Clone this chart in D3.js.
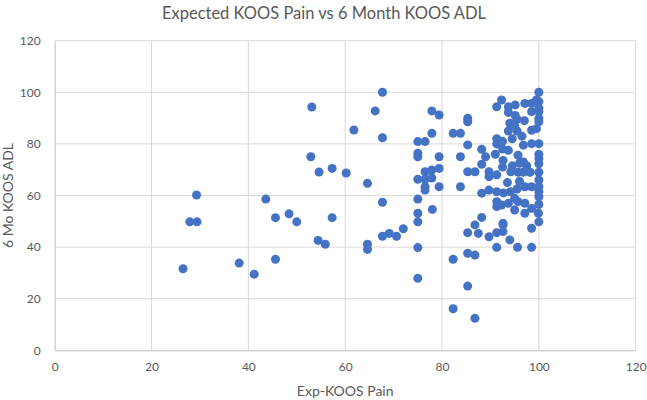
<!DOCTYPE html>
<html>
<head>
<meta charset="utf-8">
<script src="https://cdn.jsdelivr.net/npm/d3@7"></script>
<style>
  body { margin: 0; background: #fff; }
  svg text { font-family: Lato, "Open Sans", sans-serif; fill: #595959; }
</style>
</head>
<body>
<div class="chart"></div>
<script>
const width = 647, height = 400;

// [Exp-KOOS Pain, 6 Mo KOOS ADL]
const lowPain = [
  [26.5,31.6],[27.9,49.8],[29.4,49.8],[29.3,60.2],[38.1,33.8],[41.2,29.5],[43.6,58.6],
  [45.6,51.4],[45.6,35.3],[48.4,52.9],[50.0,49.8],[53.1,94.3],[52.9,75.0],[54.6,69.1],
  [57.3,70.5],[57.3,51.4],[54.4,42.6],[55.9,41.1],[60.2,68.7],[61.8,85.4],[66.2,92.8],
  [67.7,100],[67.7,82.4],[64.6,64.7],[67.7,57.4],[64.6,41.1],[64.6,39.1],[67.7,44.2],
  [69.1,45.3],[70.6,44.2],[72.0,47.1]
];
const midPain = [
  [75,80.9],[75,76.4],[75,75],[75,66.3],[75,58.6],[75,53.1],[75,49.8],[75,39.8],[75,27.9],
  [76.5,80.9],[76.5,69.2],[76.5,66.3],[76.5,63.4],[76.5,62.1],[77.9,92.8],[79.4,91.2],
  [77.9,84.1],[77.9,69.9],[77.9,66.8],[79.4,75],[79.4,70.5],[79.4,63.4],[78,54.6],
  [82.3,84.1],[83.8,84.1],[85.3,89.9],[85.3,88.6],[85.3,79.6],[83.8,75],[85.3,69.2],
  [86.8,69.2],[83.8,63.4],[88.2,77.9],[89,75],[88.2,72.1],[89.7,69.2],[89.7,67.3],
  [88.2,60.9],[89.7,62.1],[88.2,51.5],[86.8,48.6],[85.3,45.6],[87.5,45.3],[89.7,44],
  [85.3,37.6],[86.8,36.9],[82.3,35.3],[85.3,24.9],[82.3,16.1],[86.8,12.4]
];
const highPain = [
  [91.3,94.4],[92.3,97],[93.7,94.4],[95.1,95.1],[97.1,95.7],[98.5,95.7],[99.5,97],[100,100],
  [100,96.4],[100,93.8],[93.7,92.2],[95.1,91],[98.5,92.5],[100,92.5],[94,88],[95.5,89.5],
  [100,89.9],[100,88.6],[93.7,85],[95.5,85],[94.5,82],[98.5,85.3],[99.5,85.9],[96.5,83],
  [91.3,82],[91.3,80],[92.5,81],[96.8,79.5],[98.5,80.1],[100,80.1],[95,87],[97,89],
  [93.7,77.5],[95.7,75.6],[96.8,73],[92.6,73.6],[91,76],[92.5,78],[100,74.3],[100,72.3],
  [100,76],[94.5,71.5],[96,72.5],[97.5,71.5],[92.5,71],[94.2,69.2],[95.7,69],[96.8,69],
  [98.2,69],[100,69],[91.3,68],[97.1,63.4],[98.5,63.4],[100,63.4],[100,61.5],[91.3,61.5],
  [92.7,61],[94.1,61.5],[95.5,62.5],[93.5,65],[96,65.5],[100,66],
  [100,59.5],[91.3,57.6],[91.3,55.7],[92.3,56.3],[93.7,57],[95,58.9],[95.7,57.6],[95,54.4],
  [97.1,57],[98.5,55],[99.9,53.1],[97.1,53.1],[100,49.8],[92.6,49.2],[91.3,45.6],[92.6,46],
  [92.6,48.6],[98.5,47.3],[94,42.8],[91.3,39.9],[95.6,39.9],[98.5,39.9],[100,56.5]
];
const points = lowPain.concat(midPain, highPain);

const xTicks = [0, 20, 40, 60, 80, 100, 120];
const yTicks = [0, 20, 40, 60, 80, 100, 120];

const svg = d3.select('.chart').append('svg')
    .attr('width', width)
    .attr('height', height);

const x = d3.scaleLinear().domain([0, 120]).range([54.7, 635.7]);
const y = d3.scaleLinear().domain([0, 120]).range([350.3, 40.7]);

// gridlines
svg.append('g')
  .selectAll('line.h')
  .data(yTicks.slice(1))
  .join('line')
    .attr('x1', x(0)).attr('x2', x(120))
    .attr('y1', d => y(d)).attr('y2', d => y(d))
    .attr('stroke', '#d9d9d9');

svg.append('g')
  .selectAll('line.v')
  .data(xTicks.slice(1))
  .join('line')
    .attr('x1', d => x(d)).attr('x2', d => x(d))
    .attr('y1', y(0)).attr('y2', y(120))
    .attr('stroke', '#d9d9d9');

// axes
const xAxis = svg.append('g')
    .attr('transform', `translate(0,${y(0)})`)
    .call(d3.axisBottom(x).tickValues(xTicks).tickSize(0).tickPadding(12));
const yAxis = svg.append('g')
    .attr('transform', `translate(${x(0)},0)`)
    .call(d3.axisLeft(y).tickValues(yTicks).tickSize(0).tickPadding(14));

[xAxis, yAxis].forEach(g => {
  g.select('.domain').attr('stroke', '#bfbfbf');
  g.selectAll('text').attr('font-size', 12).attr('fill', '#595959')
    .attr('font-family', 'Lato, sans-serif');
});

// points
svg.append('g')
  .selectAll('circle')
  .data(points)
  .join('circle')
    .attr('cx', d => x(d[0]))
    .attr('cy', d => y(d[1]))
    .attr('r', 4.5)
    .attr('fill', '#4472c4');

// titles
svg.append('text')
    .attr('x', 324).attr('y', 19)
    .attr('text-anchor', 'middle')
    .attr('font-size', 16.5)
    .text('Expected KOOS Pain vs 6 Month KOOS ADL');

svg.append('text')
    .attr('x', (x(0) + x(120)) / 2).attr('y', 396)
    .attr('text-anchor', 'middle')
    .attr('font-size', 14)
    .text('Exp-KOOS Pain');

svg.append('text')
    .attr('transform', `translate(13,${(y(0) + y(120)) / 2}) rotate(-90)`)
    .attr('text-anchor', 'middle')
    .attr('font-size', 14)
    .text('6 Mo KOOS ADL');
</script>
</body>
</html>
